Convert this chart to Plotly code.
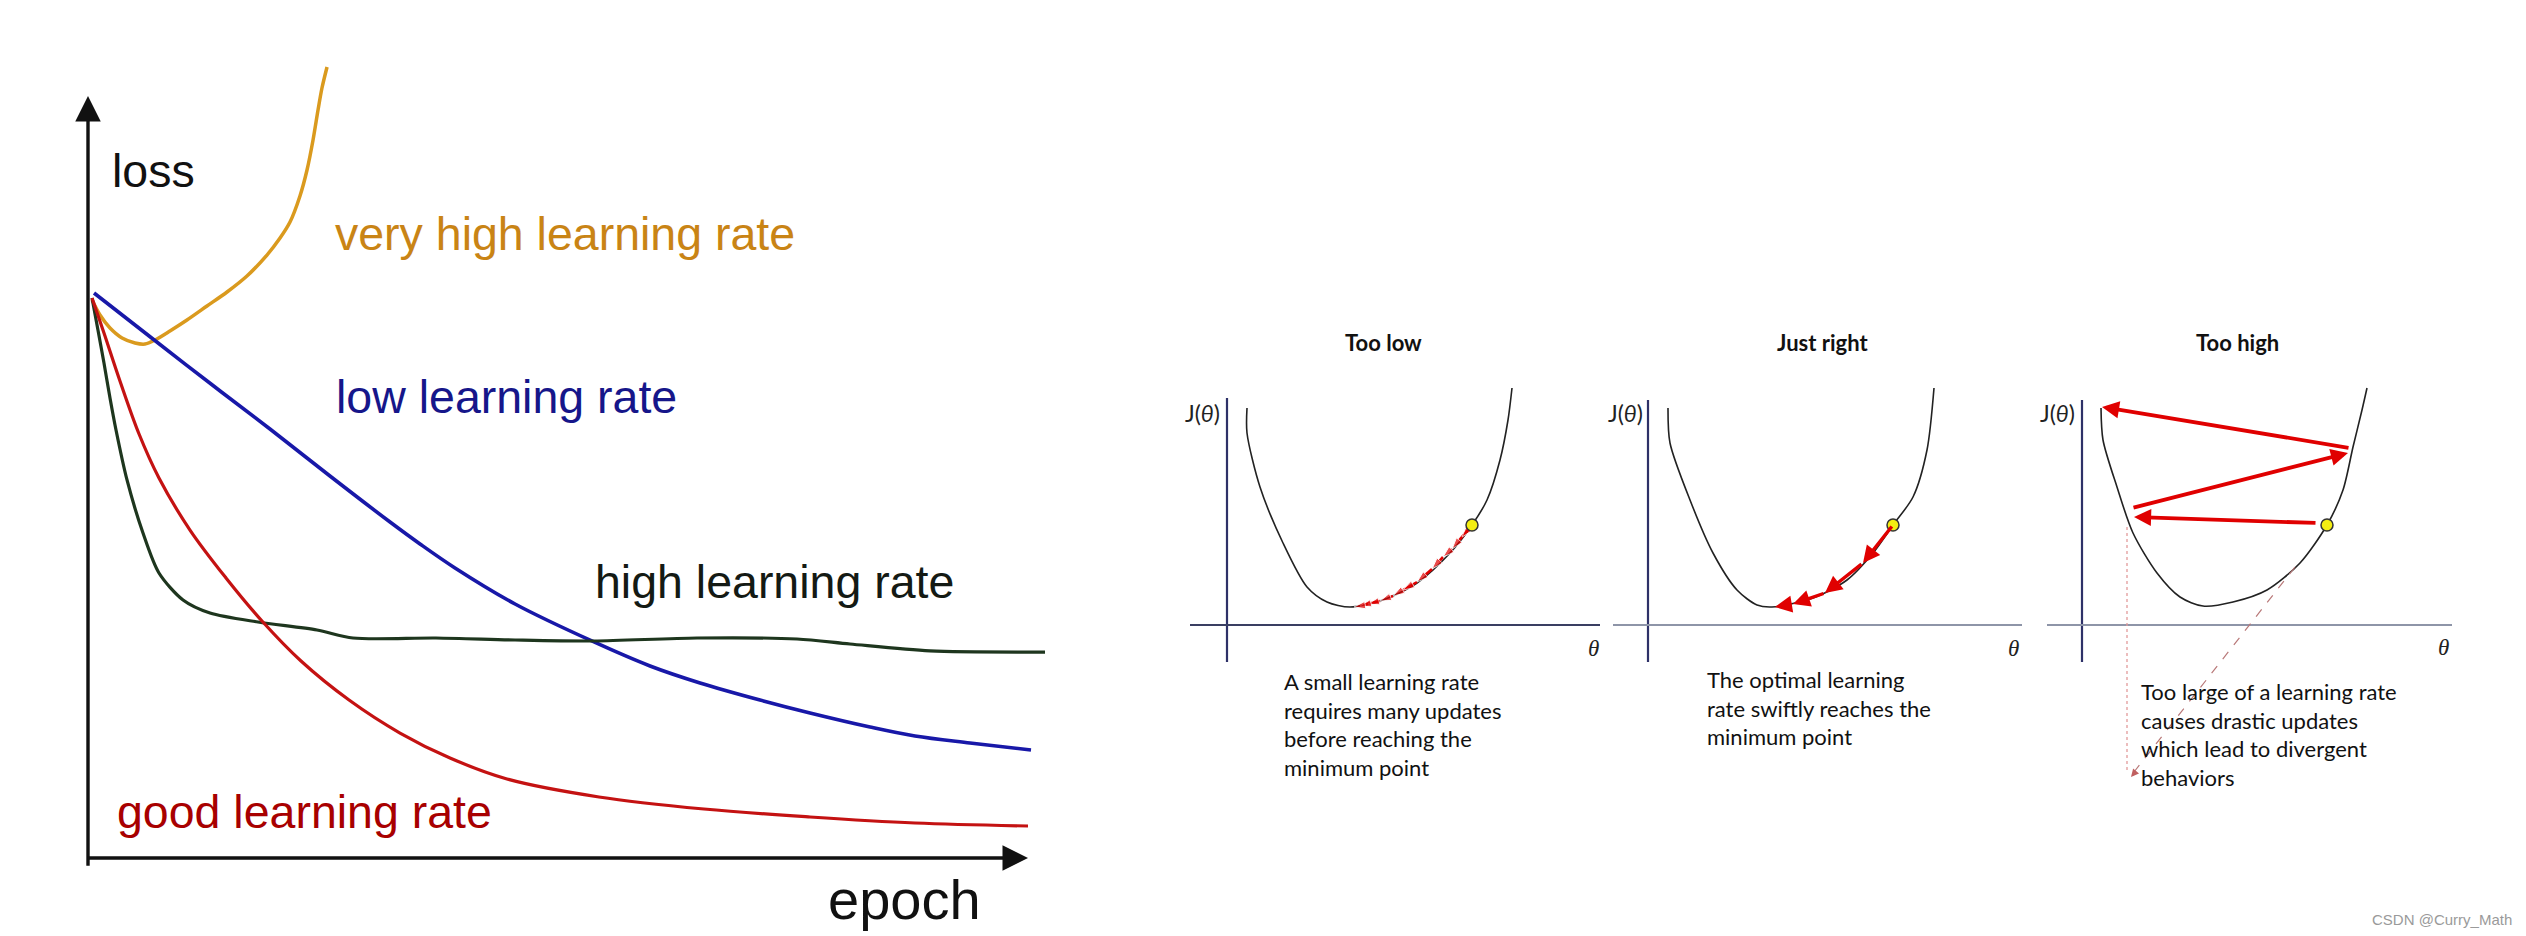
import plotly.graph_objects as go

W, H = 2526, 936

# ---------------- Left chart: loss vs epoch ----------------
epoch_very_high = [0.43, 1.28, 2.34, 3.62, 5.00, 6.06, 7.13, 8.72, 10.53, 12.66, 14.79, 16.91,
                   19.04, 20.43, 21.49, 22.55, 23.30, 23.94, 24.47, 24.89, 25.43]
loss_very_high = [73.23, 71.26, 69.55, 68.24, 67.59, 67.45, 67.98, 69.16, 70.60, 72.44, 74.28, 76.38,
                  79.13, 81.36, 83.46, 86.88, 90.29, 94.23, 98.16, 101.05, 103.81]

epoch_low = [0.64, 6.91, 13.09, 19.36, 25.74, 32.13, 35.32, 39.04, 45.43, 53.83, 59.79, 65.11,
             71.49, 76.81, 83.19, 87.98, 93.83, 100.32]
loss_low = [74.15, 68.11, 62.20, 56.30, 50.13, 44.09, 41.21, 38.06, 33.33, 28.35, 25.20, 22.97,
            20.73, 19.03, 17.19, 16.01, 15.09, 14.17]

epoch_high = [0.43, 1.06, 1.70, 2.34, 2.98, 4.15, 5.85, 7.55, 10.11, 12.98, 18.09, 24.36, 28.19,
              37.02, 45.43, 53.83, 64.79, 75.43, 81.06, 89.57, 101.81]
loss_high = [73.49, 69.29, 64.96, 60.37, 56.17, 49.61, 42.65, 37.40, 33.86, 32.15, 30.97, 29.92, 28.87,
             28.87, 28.61, 28.48, 28.87, 28.74, 28.08, 27.17, 27.03]

epoch_good = [0.43, 1.70, 3.40, 5.43, 7.55, 10.85, 14.68, 18.51, 22.66, 27.77, 33.19, 38.51,
              44.57, 54.36, 65.53, 76.81, 87.98, 100.0]
loss_good = [73.49, 68.90, 62.60, 55.64, 49.87, 43.04, 36.75, 31.10, 25.85, 20.73, 16.40, 13.12,
             10.37, 8.01, 6.43, 5.38, 4.59, 4.20]

# ---------------- Right panels: J(theta) ----------------
theta_low = [0.20, 0.20, 0.33, 0.56, 0.80, 1.00, 1.23, 1.56, 1.90, 2.23, 2.45, 2.60, 2.73, 2.81, 2.85]
J_low = [2.17, 1.92, 1.38, 0.82, 0.38, 0.23, 0.18, 0.25, 0.42, 0.72, 1.00, 1.25, 1.65, 2.05, 2.37]
steps_low_theta = [2.45, 2.35, 2.25, 2.16, 2.05, 1.90, 1.76, 1.66, 1.53, 1.41, 1.33, 1.27]
steps_low_J = [1.00, 0.88, 0.76, 0.68, 0.56, 0.43, 0.35, 0.29, 0.24, 0.21, 0.19, 0.18]

theta_right = [0.20, 0.22, 0.42, 0.65, 0.89, 1.09, 1.24, 1.65, 1.99, 2.25, 2.45, 2.65, 2.79, 2.86]
J_right = [2.17, 1.82, 1.25, 0.72, 0.35, 0.20, 0.18, 0.27, 0.45, 0.72, 1.00, 1.28, 1.75, 2.37]
steps_right_theta = [2.45, 2.15, 1.77, 1.45, 1.27]
steps_right_J = [1.00, 0.62, 0.32, 0.21, 0.18]

theta_high = [0.19, 0.21, 0.35, 0.51, 0.75, 0.98, 1.21, 1.51, 1.85, 2.18, 2.45, 2.61, 2.71, 2.80, 2.85]
J_high = [2.17, 1.85, 1.38, 0.92, 0.52, 0.28, 0.19, 0.23, 0.35, 0.62, 1.00, 1.35, 1.78, 2.15, 2.37]
jump_from_theta = [2.35, 0.50, 2.68]
jump_from_J = [1.02, 1.17, 1.77]
jump_to_theta = [0.52, 2.66, 0.20]
jump_to_J = [1.08, 1.72, 2.18]

start_theta, start_J = 2.45, 1.00

# ---------------- layout geometry (pixels) ----------------
def X(px):
    return px / W


def Y(py):
    return 1 - py / H

L_OX, L_OY, L_SX, L_SY = 88, 858, 9.4, 7.62          # left chart origin / px per unit
R_OY, R_S = 625, 100.0                                 # right panels
panels = [  # (x-domain px, theta origin px)
    ((1160, 1605), 1227),
    ((1605, 2030), 1648),
    ((2030, 2470), 2082),
]
R_YDOM = (370, 800)

fig = go.Figure()

# left curves
fig.add_trace(go.Scatter(x=epoch_very_high, y=loss_very_high, mode="lines",
                         line=dict(color="#DA9A1E", width=3.5, shape="spline", smoothing=0.8),
                         xaxis="x", yaxis="y"))
fig.add_trace(go.Scatter(x=epoch_low, y=loss_low, mode="lines",
                         line=dict(color="#1818A8", width=3.6, shape="spline", smoothing=1.0),
                         xaxis="x", yaxis="y"))
fig.add_trace(go.Scatter(x=epoch_high, y=loss_high, mode="lines",
                         line=dict(color="#1E361E", width=3.2, shape="spline", smoothing=0.8),
                         xaxis="x", yaxis="y"))
fig.add_trace(go.Scatter(x=epoch_good, y=loss_good, mode="lines",
                         line=dict(color="#C41212", width=3.2, shape="spline", smoothing=1.0),
                         xaxis="x", yaxis="y"))

# right curves
curves = [(theta_low, J_low), (theta_right, J_right), (theta_high, J_high)]
for i, (tx, jy) in enumerate(curves):
    ax = "x%d" % (i + 2)
    ay = "y%d" % (i + 2)
    fig.add_trace(go.Scatter(x=tx, y=jy, mode="lines",
                             line=dict(color="#222222", width=1.6, shape="spline", smoothing=0.8),
                             xaxis=ax, yaxis=ay))

# too low: many small steps
fig.add_trace(go.Scatter(x=steps_low_theta, y=steps_low_J, mode="lines+markers",
                         line=dict(color="#E00000", width=2.6),
                         marker=dict(symbol="arrow", angleref="previous", color="#E00000",
                                     size=[0] + [12] * (len(steps_low_theta) - 1)),
                         xaxis="x2", yaxis="y2"))

annotations = []
shapes = []

# just right: few steps
for i in range(len(steps_right_theta) - 1):
    annotations.append(dict(x=steps_right_theta[i + 1], y=steps_right_J[i + 1],
                            ax=steps_right_theta[i], ay=steps_right_J[i],
                            xref="x3", yref="y3", axref="x3", ayref="y3", text="",
                            showarrow=True, arrowhead=2, arrowsize=1.0, arrowwidth=3.4,
                            arrowcolor="#E00000", standoff=0))
# too high: diverging jumps
for i in range(len(jump_from_theta)):
    annotations.append(dict(x=jump_to_theta[i], y=jump_to_J[i],
                            ax=jump_from_theta[i], ay=jump_from_J[i],
                            xref="x4", yref="y4", axref="x4", ayref="y4", text="",
                            showarrow=True, arrowhead=2, arrowsize=0.9, arrowwidth=3.8,
                            arrowcolor="#E00000", standoff=0))

# yellow starting points
for i in range(3):
    fig.add_trace(go.Scatter(x=[start_theta], y=[start_J], mode="markers",
                             marker=dict(size=12, color="#F4EE12", line=dict(color="#333333", width=1.5)),
                             xaxis="x%d" % (i + 2), yaxis="y%d" % (i + 2)))

# ---- axes of the left chart (arrows) ----
annotations.append(dict(x=0, y=100, ax=0, ay=-1.2, xref="x", yref="y", axref="x", ayref="y", text="",
                        showarrow=True, arrowhead=2, arrowsize=1.5, arrowwidth=3.4, arrowcolor="#111111"))
annotations.append(dict(x=100, y=0, ax=-0.2, ay=0, xref="x", yref="y", axref="x", ayref="y", text="",
                        showarrow=True, arrowhead=2, arrowsize=1.5, arrowwidth=3.4, arrowcolor="#111111"))

# ---- axes of the right panels ----
r_axes = [  # (y-axis top px, y-axis bottom px, x-axis left px, x-axis right px, x color)
    (398, 662, 1190, 1600, "#3A3F62"),
    (400, 662, 1613, 2022, "#8E95A8"),
    (400, 662, 2047, 2452, "#8E95A8"),
]
for i, ((d0, d1), ox) in enumerate(panels):
    yt, yb, xl, xr, xc = r_axes[i]
    xr_ = "x%d" % (i + 2)
    yr_ = "y%d" % (i + 2)
    shapes.append(dict(type="line", xref=xr_, yref=yr_, x0=0, x1=0,
                       y0=(R_OY - yb) / R_S, y1=(R_OY - yt) / R_S,
                       line=dict(color="#2E3168", width=2.2)))
    shapes.append(dict(type="line", xref=xr_, yref=yr_, x0=(xl - ox) / R_S, x1=(xr - ox) / R_S,
                       y0=0, y1=0, line=dict(color=xc, width=2.2)))

# pointer lines in "Too high"
shapes.append(dict(type="line", xref="paper", yref="paper", x0=X(2127), x1=X(2127), y0=Y(527), y1=Y(772),
                   line=dict(color="#E29A9A", width=1.3, dash="dot")))
shapes.append(dict(type="line", xref="paper", yref="paper", x0=X(2295), x1=X(2134), y0=Y(567), y1=Y(772),
                   line=dict(color="#B87878", width=1.2, dash="dash")))
annotations.append(dict(x=X(2131), y=Y(777), ax=6, ay=-7, xref="paper", yref="paper",
                        axref="pixel", ayref="pixel", text="", showarrow=True, arrowhead=2,
                        arrowsize=1.2, arrowwidth=1.3, arrowcolor="#C06060"))

# ---- texts ----
LF = "Liberation Sans, Arial, sans-serif"
RF = "Lato, Noto Sans, sans-serif"
left_labels = [
    ("loss", 110, 171, 46.5, "#111111"),
    ("very high learning rate", 333, 234, 46.5, "#C98415"),
    ("low learning rate", 334, 397, 46.5, "#16168A"),
    ("high learning rate", 593, 582, 46.5, "#141A14"),
    ("good learning rate", 115, 812, 46.5, "#A80000"),
    ("epoch", 826, 899, 56, "#111111"),
]
for t, x, y, fs, c in left_labels:
    annotations.append(dict(x=X(x), y=Y(y), xref="paper", yref="paper", text=t, showarrow=False,
                            xanchor="left", yanchor="middle", font=dict(family=LF, size=fs, color=c)))

titles = [("Too low", 1383), ("Just right", 1822), ("Too high", 2237)]
for t, x in titles:
    annotations.append(dict(x=X(x), y=Y(342), xref="paper", yref="paper", text="<b>%s</b>" % t,
                            showarrow=False, xanchor="center", yanchor="middle",
                            font=dict(family=RF, size=22, color="#111111")))

for x in (1202, 1625, 2057):
    annotations.append(dict(x=X(x), y=Y(413), xref="paper", yref="paper", text="J(<i>θ</i>)",
                            showarrow=False, xanchor="center", yanchor="middle",
                            font=dict(family=RF, size=23, color="#222222")))
for x, y in ((1593, 648), (2013, 648), (2443, 647)):
    annotations.append(dict(x=X(x), y=Y(y), xref="paper", yref="paper", text="<i>θ</i>",
                            showarrow=False, xanchor="center", yanchor="middle",
                            font=dict(family="Liberation Serif, serif", size=23, color="#222222")))

paras = [
    ("A small learning rate<br>requires many updates<br>before reaching the<br>minimum point", 1282, 666),
    ("The optimal learning<br>rate swiftly reaches the<br>minimum point", 1705, 664),
    ("Too large of a learning rate<br>causes drastic updates<br>which lead to divergent<br>behaviors", 2139, 676),
]
for t, x, y in paras:
    annotations.append(dict(x=X(x), y=Y(y), xref="paper", yref="paper", text=t, showarrow=False,
                            xanchor="left", yanchor="top", align="left",
                            font=dict(family=RF, size=22, color="#111111")))

annotations.append(dict(x=X(2514), y=Y(919), xref="paper", yref="paper", text="CSDN @Curry_Math",
                        showarrow=False, xanchor="right", yanchor="middle",
                        font=dict(family=LF, size=15, color="#9a9a9a")))

layout_axes = dict(
    xaxis=dict(domain=[0, X(1100)], range=[(0 - L_OX) / L_SX, (1100 - L_OX) / L_SX]),
    yaxis=dict(domain=[0, 1], range=[(L_OY - H) / L_SY, L_OY / L_SY]),
)
for i, ((d0, d1), ox) in enumerate(panels):
    layout_axes["xaxis%d" % (i + 2)] = dict(domain=[X(d0), X(d1)], range=[(d0 - ox) / R_S, (d1 - ox) / R_S],
                                            anchor="y%d" % (i + 2))
    layout_axes["yaxis%d" % (i + 2)] = dict(domain=[Y(R_YDOM[1]), Y(R_YDOM[0])],
                                            range=[(R_OY - R_YDOM[1]) / R_S, (R_OY - R_YDOM[0]) / R_S],
                                            anchor="x%d" % (i + 2))
for k, v in layout_axes.items():
    v.update(visible=False, fixedrange=True, showgrid=False, zeroline=False)

fig.update_layout(width=W, height=H, autosize=False, margin=dict(l=0, r=0, t=0, b=0, pad=0),
                  paper_bgcolor="white", plot_bgcolor="rgba(0,0,0,0)", showlegend=False,
                  annotations=annotations, shapes=shapes, **layout_axes)

fig.write_html("out.html", config={"displayModeBar": False})
